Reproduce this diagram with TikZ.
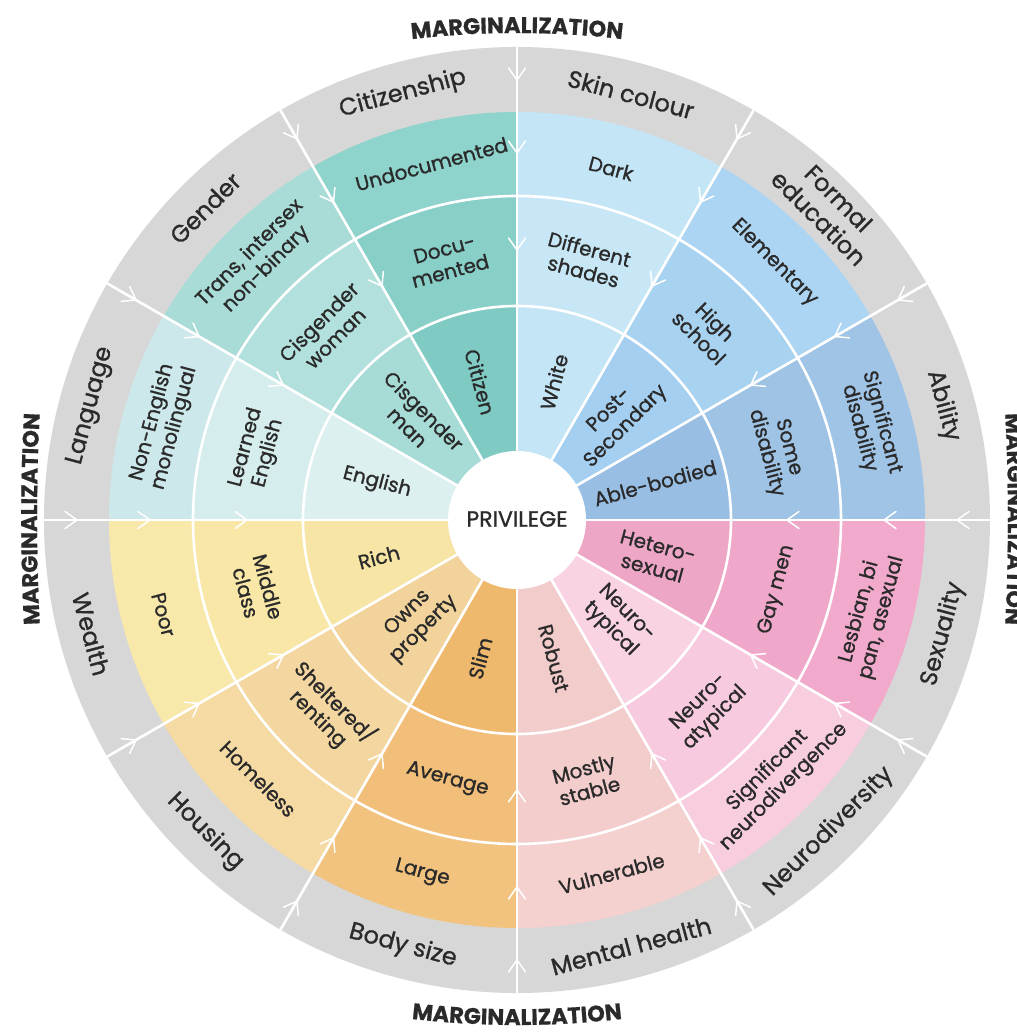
\documentclass[tikz,border=0pt]{standalone}
\usepackage{fontspec}
\setmainfont{Poppins}
\newfontfamily\lblfont{Poppins}[FakeBold=1.0]
\newfontfamily\margfont{Poppins}[FakeBold=0.6]
\usetikzlibrary{decorations.text}
\definecolor{ringgray}{HTML}{D7D7D7}
\definecolor{txt}{HTML}{2A2A2A}
\definecolor{abO}{HTML}{9FC4E6}\definecolor{abM}{HTML}{9EC3E5}\definecolor{abI}{HTML}{98BEE3}
\definecolor{edO}{HTML}{ABD5F2}\definecolor{edM}{HTML}{A7D2F0}\definecolor{edI}{HTML}{A4CFF0}
\definecolor{skO}{HTML}{C4E5F5}\definecolor{skM}{HTML}{C7E7F6}\definecolor{skI}{HTML}{C4E5F5}
\definecolor{ciO}{HTML}{8ED3CC}\definecolor{ciM}{HTML}{88CFC8}\definecolor{ciI}{HTML}{7FCBC4}
\definecolor{geO}{HTML}{A9DCD7}\definecolor{geM}{HTML}{B2E0DC}\definecolor{geI}{HTML}{A7DBD6}
\definecolor{laO}{HTML}{CCE8EA}\definecolor{laM}{HTML}{D5EDEC}\definecolor{laI}{HTML}{DCF0EF}
\definecolor{weO}{HTML}{F8E8AA}\definecolor{weM}{HTML}{F8E7A7}\definecolor{weI}{HTML}{F7E5A5}
\definecolor{hoO}{HTML}{F5DAA3}\definecolor{hoM}{HTML}{F4D7A0}\definecolor{hoI}{HTML}{F1D39B}
\definecolor{boO}{HTML}{F2C27F}\definecolor{boM}{HTML}{F1BF79}\definecolor{boI}{HTML}{EFB96D}
\definecolor{meO}{HTML}{F4D0CF}\definecolor{meM}{HTML}{F3CDCC}\definecolor{meI}{HTML}{F2CBCB}
\definecolor{neO}{HTML}{F8CDE0}\definecolor{neM}{HTML}{F8CADF}\definecolor{neI}{HTML}{F9D2E4}
\definecolor{seO}{HTML}{F2AACC}\definecolor{seM}{HTML}{F0A8CA}\definecolor{seI}{HTML}{EEA6C7}
\tikzset{
  lbl/.style={text=txt, font=\lblfont\fontsize{20}{23}\selectfont, align=center, inner sep=0pt},
  glbl/.style={text=txt, font=\lblfont\fontsize{24}{28}\selectfont, align=center, inner sep=0pt},
  sepline/.style={white, line width=2.6pt},
  chev/.style={white, line width=1.5pt, line cap=round, line join=round},
  margtext/.style={decorate, decoration={text along path, text align=center, text color=txt,
      text={|\margfont\bfseries\fontsize{22.5}{22.5}\selectfont|MARGINALIZATION}}}
}
\begin{document}
\begin{tikzpicture}[x=1pt,y=1pt]
\useasboundingbox (-517,-516) rectangle (500,520);
\clip (-517,-516) rectangle (500,520);
\fill[white] (-517,-516) rectangle (500,520);
% gray ring
\fill[ringgray] (0,0) circle[radius=473];
% sectors
\foreach \a/\co/\cm/\ci in {0/abO/abM/abI,30/edO/edM/edI,60/skO/skM/skI,90/ciO/ciM/ciI,
  120/geO/geM/geI,150/laO/laM/laI,180/weO/weM/weI,210/hoO/hoM/hoI,240/boO/boM/boI,
  270/meO/meM/meI,300/neO/neM/neI,330/seO/seM/seI}{
  \fill[\co] (0,0) -- (\a:408) arc[start angle=\a, end angle=\a+30, radius=408] -- cycle;
  \fill[\cm] (0,0) -- (\a:324) arc[start angle=\a, end angle=\a+30, radius=324] -- cycle;
  \fill[\ci] (0,0) -- (\a:214) arc[start angle=\a, end angle=\a+30, radius=214] -- cycle;
}
% separators
\foreach \a in {0,30,...,330}{\draw[sepline] (\a:60) -- (\a:473);}
\draw[sepline] (0,0) circle[radius=214];
\draw[sepline] (0,0) circle[radius=324];
% chevrons pointing to the centre
\foreach \a in {0,30,...,330}{
  \foreach \r in {270,367,440}{
    \draw[chev,rotate=\a] (\r+12,8.5) -- (\r,0) -- (\r+12,-8.5);
  }
}
% centre
\fill[white] (0,0) circle[radius=69];
\node[text=txt, font=\lblfont\fontsize{22}{24}\selectfont, inner sep=0pt] (priv) at (0,1) {PRIVILEGE};
% inner ring
\node[lbl,rotate=15]  (i1)  at (15:143)  {Able-bodied};
\node[lbl,rotate=45]  (i2)  at (45:143)  {Post-\\Secondary};
\node[lbl,rotate=75]  (i3)  at (75:143)  {White};
\node[lbl,rotate=-75] (i4)  at (105:143) {Citizen};
\node[lbl,rotate=-45] (i5)  at (135:143) {Cisgender\\man};
\node[lbl,rotate=-15] (i6)  at (165:145) {English};
\node[lbl,rotate=15]  (i7)  at (195:143) {Rich};
\node[lbl,rotate=45]  (i8)  at (225:143) {Owns\\property};
\node[lbl,rotate=75]  (i9)  at (255:143) {Slim};
\node[lbl,rotate=-75] (i10) at (285:143) {Robust};
\node[lbl,rotate=-45] (i11) at (315:143) {Neuro-\\typical};
\node[lbl,rotate=-15] (i12) at (345:143) {Hetero-\\sexual};
% middle ring
\node[lbl,rotate=-75] (m1)  at (15:269)  {Some\\disability};
\node[lbl,rotate=-45] (m2)  at (45:269)  {High\\school};
\node[lbl,rotate=-15] (m3)  at (75:269)  {Different\\shades};
\node[lbl,rotate=15]  (m4)  at (105:269) {Docu-\\mented};
\node[lbl,rotate=45]  (m5)  at (135:269) {Cisgender\\woman};
\node[lbl,rotate=75]  (m6)  at (165:269) {Learned\\English};
\node[lbl,rotate=-75] (m7)  at (195:269) {Middle\\class};
\node[lbl,rotate=-45] (m8)  at (225:269) {Sheltered/\\renting};
\node[lbl,rotate=-15] (m9)  at (255:269) {Average};
\node[lbl,rotate=15]  (m10) at (285:269) {Mostly\\stable};
\node[lbl,rotate=45]  (m11) at (315:269) {Neuro-\\atypical};
\node[lbl,rotate=75]  (m12) at (345:269) {Gay men};
% outer ring
\node[lbl,rotate=-75] (o1)  at (15:366)  {Significant\\disability};
\node[lbl,rotate=-45] (o2)  at (45:364)  {Elementary};
\node[lbl,rotate=-15] (o3)  at (75:364)  {Dark};
\node[lbl,rotate=15]  (o4)  at (103.5:366) {Undocumented};
\node[lbl,rotate=45]  (o5)  at (135:366) {Trans, intersex\\non-binary};
\node[lbl,rotate=75]  (o6)  at (165:366) {Non-English\\monolingual};
\node[lbl,rotate=-75] (o7)  at (195:366) {Poor};
\node[lbl,rotate=-45] (o8)  at (225:366) {Homeless};
\node[lbl,rotate=-15] (o9)  at (255:366) {Large};
\node[lbl,rotate=15]  (o10) at (285:366) {Vulnerable};
\node[lbl,rotate=45]  (o11) at (315:366) {Significant\\neurodivergence};
\node[lbl,rotate=75]  (o12) at (345:366) {Lesbian, bi\\pan, asexual};
% gray ring labels
\node[glbl,rotate=-75] (g1)  at (15:441)  {Ability};
\node[glbl,rotate=-45] (g2)  at (45:441)  {Formal\\education};
\node[glbl,rotate=-15] (g3)  at (75:441)  {Skin colour};
\node[glbl,rotate=15]  (g4)  at (105:441) {Citizenship};
\node[glbl,rotate=45]  (g5)  at (135:441) {Gender};
\node[glbl,rotate=75]  (g6)  at (165:441) {Language};
\node[glbl,rotate=-75] (g7)  at (195:441) {Wealth};
\node[glbl,rotate=-45] (g8)  at (225:441) {Housing};
\node[glbl,rotate=-15] (g9)  at (255:441) {Body size};
\node[glbl,rotate=15]  (g10) at (285:441) {Mental health};
\node[glbl,rotate=45]  (g11) at (315:441) {Neurodiversity};
\node[glbl,rotate=75]  (g12) at (345:441) {Sexuality};
% marginalization labels, set along flat arcs
\coordinate (ct) at (0,-413);
\coordinate (cb) at (0,395);
\coordinate (cl) at (1520,1);
\coordinate (cr) at (-1509,1);
\path[margtext] ([shift={(ct)}]100:900) arc[start angle=100, end angle=80, radius=900];
\path[margtext] ([shift={(cb)}]260:900) arc[start angle=260, end angle=280, radius=900];
\path[margtext] ([shift={(cl)}]186:2000) arc[start angle=186, end angle=174, radius=2000];
\path[margtext] ([shift={(cr)}]6:2000) arc[start angle=6, end angle=-6, radius=2000];
\end{tikzpicture}
\end{document}
